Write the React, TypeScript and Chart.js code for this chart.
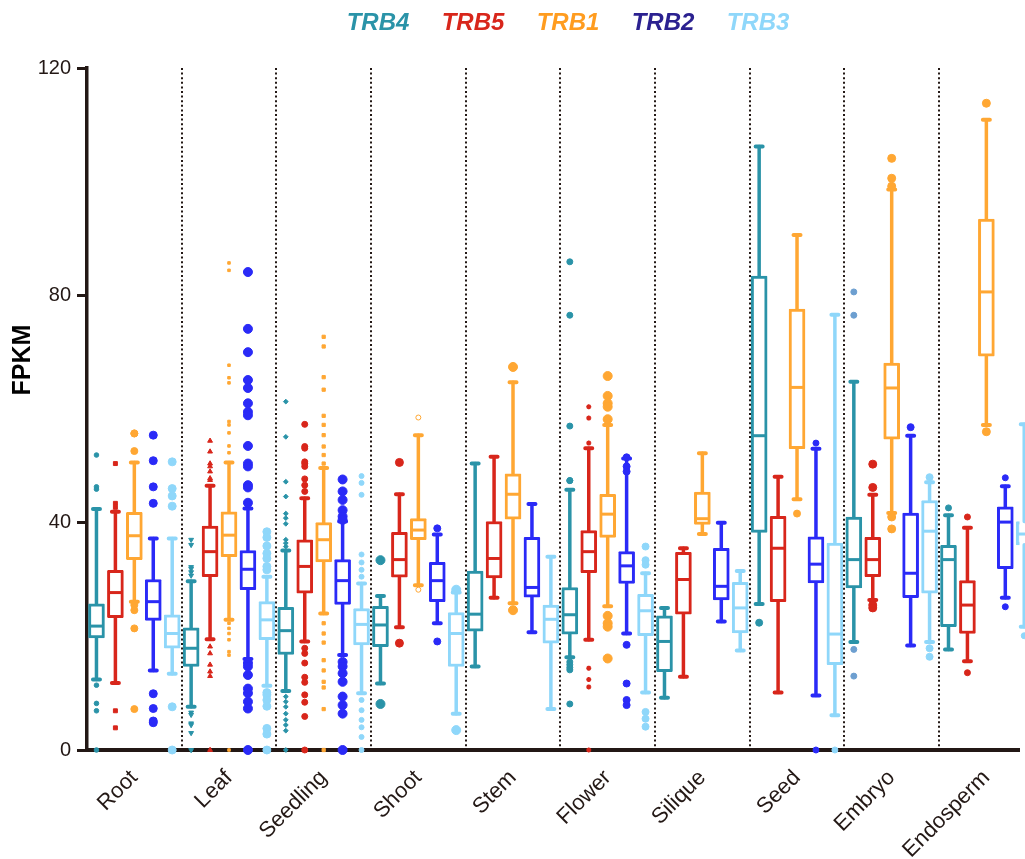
import React, { useEffect, useRef } from 'react';
import { Chart, registerables } from 'chart.js';
Chart.register(...registerables);

const categories = ['Root', 'Leaf', 'Seedling', 'Shoot', 'Stem', 'Flower', 'Silique', 'Seed', 'Embryo', 'Endosperm'];
const seriesNames = ['TRB4', 'TRB5', 'TRB1', 'TRB2', 'TRB3'];
const yTicks = [0, 40, 80, 120];

// [lower whisker, Q1, median, Q3, upper whisker] per category
const trb4Box = [
  [12.4, 19.7, 21.8, 25.7, 42.4], [7.6, 14.7, 17.9, 21.5, 29.7], [10.4, 16.8, 21.0, 25.1, 35.1],
  [11.7, 18.2, 22.0, 25.3, 27.1], [14.7, 20.9, 23.9, 31.5, 50.4], [16.3, 20.4, 23.8, 28.6, 45.8],
  [9.2, 13.8, 19.1, 23.6, 25.0], [25.7, 38.3, 55.3, 83.4, 106.2], [19.0, 28.5, 33.5, 41.0, 64.8],
  [17.7, 21.7, 33.5, 36.0, 41.3],
];
const trb5Box = [
  [11.8, 23.3, 27.7, 31.6, 41.9], [19.5, 30.5, 34.9, 39.4, 46.5], [19.1, 27.6, 32.3, 37.0, 44.3],
  [21.6, 30.4, 33.5, 38.3, 45.0], [26.8, 30.3, 33.7, 40.2, 51.6], [19.4, 31.2, 34.9, 38.6, 53.1],
  [12.9, 23.9, 30.0, 34.8, 35.5], [10.1, 26.1, 35.5, 41.1, 48.1], [26.4, 30.5, 33.5, 37.4, 44.9],
  [15.6, 20.5, 25.5, 29.8, 39.1],
];
const trb1Box = [
  [26.1, 33.5, 37.7, 41.8, 50.6], [22.9, 34.0, 37.8, 41.9, 50.6], [24.0, 33.1, 37.0, 40.0, 49.6],
  [29.0, 37.0, 38.7, 40.7, 55.4], [25.8, 40.6, 45.0, 48.6, 64.7], [25.3, 37.4, 41.5, 45.0, 57.2],
  [38.0, 39.7, 40.7, 45.4, 52.2], [44.1, 53.0, 63.8, 77.6, 90.6], [41.7, 54.7, 63.7, 68.1, 98.6],
  [57.2, 69.3, 80.6, 93.4, 110.9],
];
const trb2Box = [
  [14.0, 22.8, 26.1, 30.0, 37.2], [16.0, 28.2, 31.8, 35.1, 42.5], [16.7, 25.6, 29.8, 33.5, 40.2],
  [22.3, 26.1, 29.8, 33.0, 37.9], [20.7, 26.9, 28.6, 37.4, 43.3], [20.5, 29.3, 32.4, 34.9, 51.3],
  [22.6, 26.4, 28.8, 35.5, 40.0], [9.6, 29.4, 32.7, 37.5, 53.0], [18.4, 26.8, 31.1, 41.7, 55.3],
  [26.8, 31.9, 40.1, 42.8, 46.4],
];
const trb3Box = [
  [13.4, 17.9, 20.5, 23.8, 37.2], [11.3, 19.4, 22.9, 26.1, 30.5], [10.0, 18.5, 22.1, 24.9, 29.3],
  [6.4, 14.7, 20.5, 24.2, 27.7], [7.2, 18.8, 23.0, 25.5, 34.0], [10.1, 20.1, 24.5, 27.4, 31.1],
  [17.5, 20.6, 25.0, 29.5, 31.5], [6.1, 15.0, 20.4, 36.4, 76.6], [19.0, 27.6, 38.5, 43.9, 47.1],
  [21.7, 36.1, 38.0, 40.2, 57.3],
];

// outliers per category
const trb4Outliers = [
  [51.9, 46.3, 45.9, 11.4, 8.2, 6.9, 0],
  [37.0, 36.1, 32.2, 31.9, 31.3, 30.7, 6.6, 6.2, 4.7, 4.4, 3.0, 0],
  [61.3, 55.1, 47.2, 44.6, 41.6, 40.8, 39.8, 37.0, 36.4, 35.8, 9.4, 8.5, 7.6, 6.4, 5.3, 4.4, 3.4, 0],
  [33.4, 8.1],
  [],
  [85.9, 76.5, 57.0, 47.4, 47.4, 15.5, 15.0, 14.5, 14.1, 8.1],
  [],
  [22.4],
  [80.6, 76.5, 17.7, 13.0],
  [42.6],
];
const trb5Outliers = [
  [50.4, 43.4, 42.7, 6.9, 3.9],
  [54.4, 52.5, 50.4, 49.9, 49.0, 47.8, 47.5, 18.2, 17.0, 15.0, 13.8, 13.0, 0],
  [57.3, 53.4, 53.1, 50.7, 50.4, 49.9, 47.7, 46.6, 45.5, 17.9, 17.0, 15.3, 12.8, 11.9, 9.7, 8.4, 5.9, 0],
  [50.6, 18.8],
  [],
  [60.4, 58.4, 54.0, 14.4, 12.4, 11.1, 0],
  [],
  [],
  [50.3, 46.2, 25.5, 25.0],
  [41.0, 13.6],
];
const trb1Outliers = [
  [55.7, 55.7, 52.6, 25.5, 24.6, 21.4, 7.2],
  [85.7, 84.4, 67.7, 65.5, 64.6, 57.8, 57.2, 55.8, 53.5, 52.3, 22.3, 21.4, 20.5, 19.4, 17.3, 16.7, 0],
  [72.7, 71.0, 65.6, 63.4, 58.8, 57.2, 55.4, 53.4, 51.9, 50.4, 22.3, 20.5, 18.9, 15.8, 14.0, 12.0, 11.0, 7.2, 0],
  [58.5, 28.2],
  [67.4, 24.6],
  [65.8, 62.3, 61.0, 60.4, 58.2, 23.6, 22.3, 21.7, 16.1],
  [],
  [41.6],
  [104.1, 100.6, 99.2, 41.0, 38.9],
  [113.8, 56.0],
];
const trb2Outliers = [
  [55.4, 50.9, 46.3, 43.4, 9.9, 7.3, 5.1, 4.8],
  [84.1, 74.1, 70.0, 65.1, 63.7, 61.0, 59.5, 58.9, 53.5, 50.4, 49.9, 46.6, 46.2, 43.5, 15.3, 14.7, 13.2, 10.8, 10.0, 8.5, 7.3, 0],
  [47.6, 45.5, 44.0, 42.2, 41.1, 40.5, 15.5, 14.7, 13.5, 12.0, 9.4, 7.9, 6.4, 0],
  [39.0, 19.1],
  [],
  [51.5, 49.9, 49.0, 18.5, 11.7, 8.8, 7.9],
  [],
  [54.0, 0],
  [56.8],
  [47.9, 25.2],
];
const trb3Outliers = [
  [50.7, 46.0, 44.7, 42.9, 7.6, 0],
  [38.4, 37.4, 35.9, 34.6, 33.7, 32.3, 31.7, 10.1, 9.7, 8.8, 7.7, 3.8, 2.8, 0],
  [48.2, 47.0, 44.9, 34.4, 33.0, 31.7, 30.5, 8.8, 7.0, 5.3, 4.0, 2.3, 0],
  [28.2, 3.5],
  [],
  [35.8, 33.4, 32.6, 6.7, 5.5, 4.1],
  [],
  [0],
  [48.0, 17.9, 16.4],
  [20.1],
];

const allBoxes = [trb4Box, trb5Box, trb1Box, trb2Box, trb3Box];
const allOutliers = [trb4Outliers, trb5Outliers, trb1Outliers, trb2Outliers, trb3Outliers];

// ---- styles ----
const FONT = "'Liberation Sans', Arial, Helvetica, sans-serif";
const axisColor = '#231815';
const boxColors = ['#2a93a8', '#d8261b', '#ffa733', '#2a2af7', '#8fd7fa'];
const legendColors = ['#2a93a8', '#d8261b', '#ff9c1f', '#2b2190', '#8fd7fa'];
const offsets = seriesNames.map((_, k) => (k - 2) * 0.2);

type Shape = [string, number, number?, boolean?];
const outlierShapes: Shape[][] = [
  [['circle', 2.3], ['triangle', 2.8, 180], ['rectRot', 2.4], ['circle', 4.5], ['circle', 3], ['circle', 3], ['circle', 3], ['circle', 3.5], ['circle', 3], ['circle', 3]],
  [['rect', 2.8], ['triangle', 2.8], ['circle', 3], ['circle', 4], ['circle', 3], ['star', 2.5], ['circle', 3], ['circle', 3], ['circle', 4], ['circle', 3]],
  [['circle', 3.5], ['rect', 1.8], ['rect', 2.3], ['circle', 2.5, 0, true], ['circle', 4.5], ['circle', 4.5], ['circle', 3], ['circle', 3.5], ['circle', 4], ['circle', 4]],
  [['circle', 4], ['circle', 4.5], ['circle', 4.5], ['circle', 3.5], ['circle', 3.5], ['circle', 3.5], ['circle', 3], ['circle', 3], ['circle', 3.5], ['circle', 3]],
  [['circle', 4], ['circle', 4], ['circle', 2.5], ['circle', 4.5], ['circle', 3.5], ['circle', 3.5], ['circle', 3], ['circle', 3], ['circle', 3.5], ['circle', 3]],
];
const outlierColorOverride: Record<string, string> = { '0-8': '#6d9fd0' };

const boxPlugin = {
  id: 'boxWhisker',
  beforeDatasetsDraw(chart: any) {
    const { ctx, scales, chartArea } = chart;
    const x = scales.x, y = scales.y;
    ctx.save();
    // dotted category separators
    ctx.strokeStyle = axisColor;
    ctx.lineWidth = 2;
    ctx.setLineDash([2, 2.6]);
    for (let i = 0; i < categories.length - 1; i++) {
      const px = Math.round(x.getPixelForValue(i + 0.5));
      ctx.beginPath();
      ctx.moveTo(px, chartArea.top);
      ctx.lineTo(px, chartArea.bottom);
      ctx.stroke();
    }
    ctx.setLineDash([]);
    // whiskers
    ctx.lineCap = 'round';
    allBoxes.forEach((boxes, s) => {
      ctx.strokeStyle = boxColors[s];
      boxes.forEach((b, c) => {
        const px = x.getPixelForValue(c + offsets[s]);
        const lo = y.getPixelForValue(b[0]);
        const q1 = y.getPixelForValue(b[1]);
        const q3 = y.getPixelForValue(b[3]);
        const hi = y.getPixelForValue(b[4]);
        ctx.lineWidth = 3.5;
        ctx.beginPath();
        ctx.moveTo(px, hi); ctx.lineTo(px, q3);
        ctx.moveTo(px, q1); ctx.lineTo(px, lo);
        ctx.stroke();
        ctx.lineWidth = 4;
        ctx.beginPath();
        ctx.moveTo(px - 3.5, hi); ctx.lineTo(px + 3.5, hi);
        ctx.moveTo(px - 3.5, lo); ctx.lineTo(px + 3.5, lo);
        ctx.stroke();
      });
    });
    ctx.restore();
  },
  afterDatasetsDraw(chart: any) {
    const { ctx, scales } = chart;
    const x = scales.x, y = scales.y;
    ctx.save();
    ctx.lineWidth = 3;
    allBoxes.forEach((boxes, s) => {
      ctx.strokeStyle = boxColors[s];
      boxes.forEach((b, c) => {
        const px = x.getPixelForValue(c + offsets[s]);
        const py = y.getPixelForValue(b[2]);
        ctx.beginPath();
        ctx.moveTo(px - 6.5, py); ctx.lineTo(px + 6.5, py);
        ctx.stroke();
      });
    });
    ctx.restore();
  },
  afterDraw(chart: any) {
    const { ctx } = chart;
    ctx.save();
    // legend
    ctx.font = `italic bold 24px ${FONT}`;
    ctx.textAlign = 'center';
    ctx.textBaseline = 'middle';
    seriesNames.forEach((n, k) => {
      ctx.fillStyle = legendColors[k];
      ctx.fillText(n, 568 + (k - 2) * 95, 23);
    });
    // y title
    ctx.translate(23, 360);
    ctx.rotate(-Math.PI / 2);
    ctx.font = `bold 25px ${FONT}`;
    ctx.fillStyle = '#000';
    ctx.fillText('FPKM', 0, 0);
    ctx.restore();
  },
};

export default function App() {
  const ref = useRef<HTMLCanvasElement>(null);
  useEffect(() => {
    document.body.style.margin = '0';
    const barSets = allBoxes.map((boxes, s) => ({
      type: 'bar' as const,
      label: seriesNames[s],
      data: boxes.map((b, c) => ({ x: c + offsets[s], y: [b[1], b[3]] })),
      backgroundColor: '#ffffff',
      borderColor: boxColors[s],
      borderWidth: 3,
      borderSkipped: false,
      borderRadius: 1,
      barThickness: 16,
      grouped: false,
    }));
    const scatterSets = allOutliers.map((outs, s) => {
      const pts: any[] = [];
      outs.forEach((vals, c) => vals.forEach((v) => pts.push({ x: c + offsets[s], y: v, c })));
      const shapeOf = (ctx: any): Shape => {
        const c = ctx.raw ? ctx.raw.c : 0;
        return outlierShapes[s][c];
      };
      const colorOf = (ctx: any) => {
        const c = ctx.raw ? ctx.raw.c : 0;
        return outlierColorOverride[`${s}-${c}`] || boxColors[s];
      };
      return {
        type: 'scatter' as const,
        label: seriesNames[s] + ' outliers',
        data: pts,
        showLine: false,
        clip: false as any,
        pointStyle: (ctx: any) => shapeOf(ctx)[0],
        pointRadius: (ctx: any) => shapeOf(ctx)[1],
        pointRotation: (ctx: any) => shapeOf(ctx)[2] || 0,
        pointBackgroundColor: (ctx: any) => (shapeOf(ctx)[3] ? '#ffffff' : colorOf(ctx)),
        pointBorderColor: colorOf,
        pointBorderWidth: (ctx: any) => (shapeOf(ctx)[0] === 'star' ? 1.5 : 1),
      };
    });
    const chart = new Chart(ref.current as HTMLCanvasElement, {
      type: 'bar',
      data: { datasets: [...scatterSets, ...barSets] as any },
      options: {
        responsive: false,
        animation: false,
        devicePixelRatio: 1,
        events: [],
        layout: { padding: { top: 68, left: 0, right: 0, bottom: 0 } },
        plugins: { legend: { display: false }, tooltip: { enabled: false } },
        scales: {
          x: {
            type: 'linear',
            min: -0.5,
            max: 9.35,
            offset: false,
            afterBuildTicks: (s: any) => { s.ticks = categories.map((_, i) => ({ value: i })); },
            afterFit: (s: any) => { s.height = 109; },
            grid: { display: false, drawTicks: false, offset: false },
            border: { display: true, color: axisColor, width: 4 },
            ticks: {
              autoSkip: false,
              minRotation: 45,
              maxRotation: 45,
              color: axisColor,
              padding: 15,
              font: { family: FONT, size: 22 },
              callback: (v: any) => categories[Math.round(Number(v))] ?? '',
            },
          },
          y: {
            min: 0,
            max: 120,
            afterBuildTicks: (s: any) => { s.ticks = yTicks.map((v) => ({ value: v })); },
            afterFit: (s: any) => { s.width = 87; },
            grid: { display: true, drawOnChartArea: false, drawTicks: true, tickLength: 10, tickWidth: 3, tickColor: axisColor },
            border: { display: true, color: axisColor, width: 3.5 },
            ticks: { color: axisColor, padding: 6, font: { family: FONT, size: 20 } },
          },
        } as any,
      },
      plugins: [boxPlugin],
    });
    return () => chart.destroy();
  }, []);
  return (
    <div style={{ width: 1025, height: 859, background: '#ffffff', overflow: 'hidden' }}>
      <canvas ref={ref} width={1025} height={859} style={{ display: 'block' }} />
    </div>
  );
}
